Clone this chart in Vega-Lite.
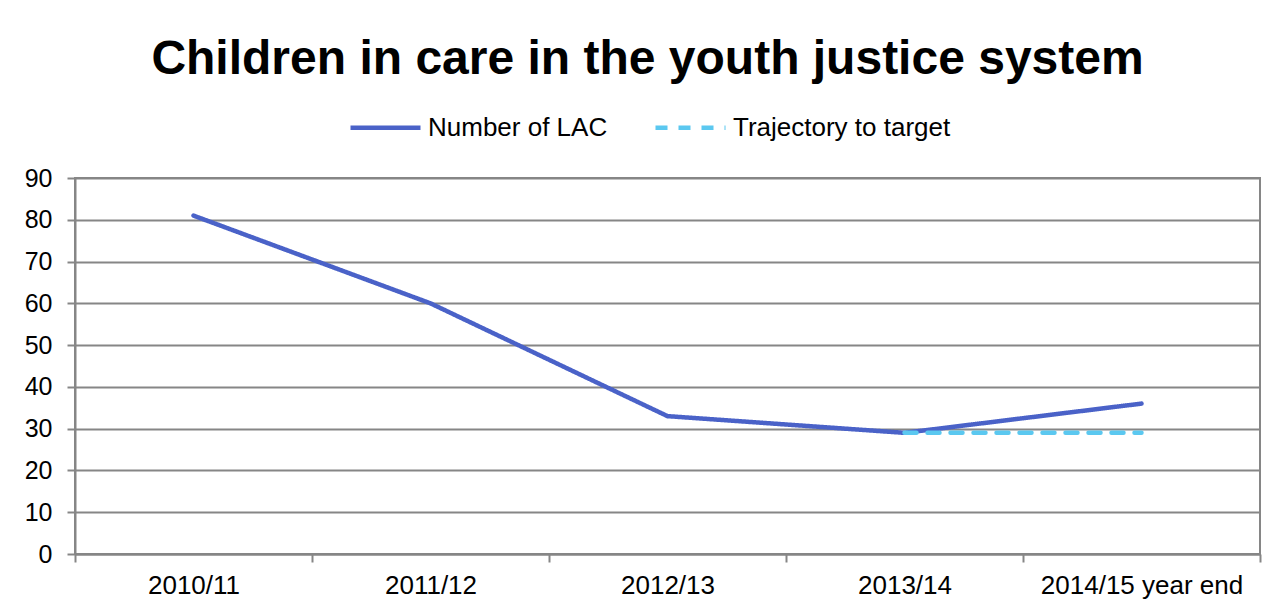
{
  "$schema": "https://vega.github.io/schema/vega-lite/v6.json",
  "width": 1185,
  "height": 376,
  "autosize": {"type": "none"},
  "padding": {"top": 178, "left": 75, "right": 28, "bottom": 57},
  "background": "white",
  "title": {
    "text": "Children in care in the youth justice system",
    "font": "Liberation Sans",
    "fontSize": 48,
    "fontWeight": "bold",
    "color": "black",
    "anchor": "middle",
    "frame": "group",
    "offset": 6,
    "dx": -20
  },
  "data": {
    "values": [
      {"year": "2010/11", "series": "Number of LAC", "value": 81},
      {"year": "2011/12", "series": "Number of LAC", "value": 60},
      {"year": "2012/13", "series": "Number of LAC", "value": 33},
      {"year": "2013/14", "series": "Number of LAC", "value": 29},
      {"year": "2014/15 year end", "series": "Number of LAC", "value": 36},
      {"year": "2013/14", "series": "Trajectory to target", "value": 29},
      {"year": "2014/15 year end", "series": "Trajectory to target", "value": 29}
    ]
  },
  "mark": {"type": "line", "strokeWidth": 4.5, "strokeCap": "round", "strokeJoin": "round"},
  "encoding": {
    "x": {
      "field": "year",
      "type": "ordinal",
      "sort": ["2010/11", "2011/12", "2012/13", "2013/14", "2014/15 year end"],
      "scale": {"type": "band", "paddingInner": 0, "paddingOuter": 0},
      "axis": {
        "title": null,
        "labelAngle": 0,
        "tickBand": "extent",
        "grid": false,
        "domainColor": "#868686",
        "domainWidth": 2,
        "tickColor": "#868686",
        "tickWidth": 2,
        "tickSize": 8,
        "labelFont": "Liberation Sans",
        "labelFontSize": 26,
        "labelColor": "black",
        "labelPadding": 10,
        "labelLimit": 400
      }
    },
    "y": {
      "field": "value",
      "type": "quantitative",
      "scale": {"domain": [0, 90], "nice": false},
      "axis": {
        "title": null,
        "values": [0, 10, 20, 30, 40, 50, 60, 70, 80, 90],
        "grid": true,
        "gridColor": "#868686",
        "gridWidth": 2,
        "gridOpacity": 1,
        "domainColor": "#868686",
        "domainWidth": 2,
        "tickColor": "#868686",
        "tickWidth": 2,
        "tickSize": 8,
        "labelFont": "Liberation Sans",
        "labelFontSize": 25,
        "labelColor": "black",
        "labelPadding": 15
      }
    },
    "color": {
      "field": "series",
      "type": "nominal",
      "scale": {"domain": ["Number of LAC", "Trajectory to target"], "range": ["#4A62C8", "#5BC8F0"]},
      "legend": {"title": null}
    },
    "strokeDash": {
      "field": "series",
      "type": "nominal",
      "scale": {"domain": ["Number of LAC", "Trajectory to target"], "range": [[1, 0], [12, 11]]},
      "legend": {"title": null}
    }
  },
  "config": {
    "view": {"stroke": "#868686", "strokeWidth": 2},
    "legend": {
      "orient": "none",
      "legendX": 273,
      "legendY": -88,
      "direction": "horizontal",
      "symbolType": "stroke",
      "symbolSize": 4900,
      "symbolStrokeWidth": 4.5,
      "labelFont": "Liberation Sans",
      "labelFontSize": 26,
      "labelColor": "black",
      "labelOffset": 5,
      "columnPadding": 38,
      "labelLimit": 400
    }
  }
}
